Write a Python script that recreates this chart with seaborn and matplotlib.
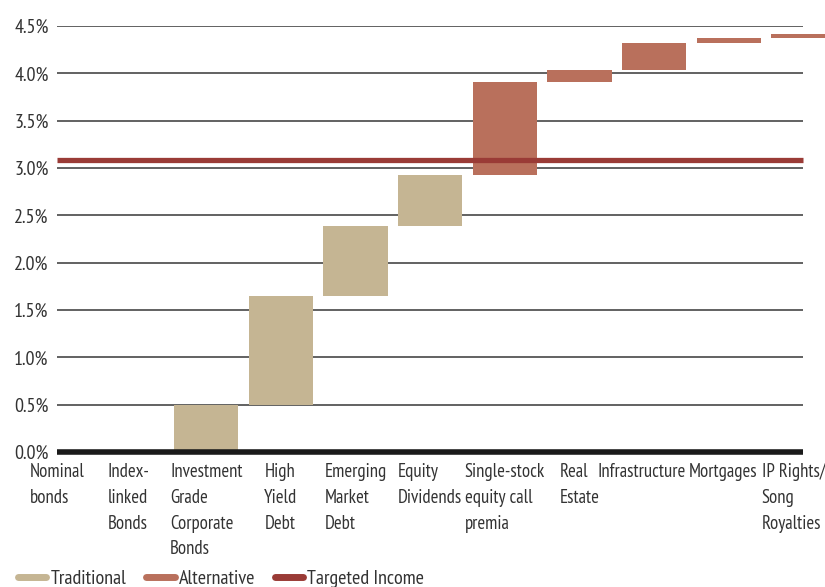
import numpy as np
import pandas as pd
import matplotlib
matplotlib.use("Agg")
import matplotlib.pyplot as plt
from matplotlib.lines import Line2D
from matplotlib.transforms import ScaledTranslation
import seaborn as sns

# data
categories = ["Nominal\nbonds", "Index-\nlinked\nBonds", "Investment\nGrade\nCorporate\nBonds",
              "High\nYield\nDebt", "Emerging\nMarket\nDebt", "Equity\nDividends",
              "Single-stock\nequity call\npremia", "Real\nEstate", "Infrastructure",
              "Mortgages", "IP Rights/\nSong\nRoyalties"]
bottoms = [0.0, 0.0, 0.0, 0.50, 1.65, 2.39, 2.93, 3.91, 4.04, 4.32, 4.37]
tops = [0.0, 0.0, 0.50, 1.65, 2.39, 2.93, 3.91, 4.04, 4.32, 4.37, 4.42]
groups = ["Traditional"] * 6 + ["Alternative"] * 5
target = 3.08
yticks = [0.0, 0.5, 1.0, 1.5, 2.0, 2.5, 3.0, 3.5, 4.0, 4.5]

colors = {"Traditional": "#C5B593", "Alternative": "#B9705C"}
target_color = "#9A3B36"
txt_color = "#333333"
fs = 13.5

sns.set_theme(style="white")
plt.rcParams['font.family'] = ['PT Sans Narrow', 'Roboto Condensed', 'DejaVu Sans']

df = pd.DataFrame({"cat": categories, "delta": np.array(tops) - np.array(bottoms),
                   "group": groups})

fig = plt.figure(figsize=(8.25, 5.87), dpi=100)
ax = fig.add_axes([57 / 825, 135 / 587, 1 - 57 / 825, 426 / 587])

sns.barplot(data=df, x="cat", y="delta", hue="group", palette=colors, dodge=False,
            width=0.86, order=categories, legend=False, ax=ax, zorder=2,
            linewidth=0, saturation=1)

# lift each bar to its floating base
for p in ax.patches:
    idx = int(round(p.get_x() + p.get_width() / 2))
    p.set_y(bottoms[idx])

# grid lines only across the category centres
ax.hlines(yticks[1:], 0, 10, color="#555555", lw=1.3, zorder=1)
ax.hlines(0, 0, 10, color="#1a1a1a", lw=4, zorder=3, clip_on=False)
ax.hlines(target, 0, 10, color=target_color, lw=3.8, zorder=4)

ax.set_xlim(0, 10.29)
ax.set_ylim(0, 4.5)
ax.set_yticks(yticks)
ax.set_yticklabels([f"{v:.1f}%" for v in yticks], fontsize=14.5, color=txt_color)
ax.set_xticks(range(len(categories)))
ax.set_xticklabels(categories, fontsize=fs, color=txt_color, va="top",
                   multialignment="left", linespacing=1.55)
ax.tick_params(axis="x", length=0, pad=8)
ax.tick_params(axis="y", length=0, pad=6)
ax.set_xlabel("")
ax.set_ylabel("")
for s in ax.spines.values():
    s.set_visible(False)

# nudge the crowded labels on the right, as in the original
shifts = {1: -3, 8: -12, 9: -6, 10: -10}
for i, lab in enumerate(ax.get_xticklabels()):
    if i in shifts:
        lab.set_transform(lab.get_transform() + ScaledTranslation(shifts[i] / 100, 0, fig.dpi_scale_trans))

handles = [Line2D([], [], color=colors["Traditional"], lw=5),
           Line2D([], [], color=colors["Alternative"], lw=5),
           Line2D([], [], color=target_color, lw=5)]
fig.legend(handles, ["Traditional", "Alternative", "Targeted Income"], ncol=3,
           loc="lower left", bbox_to_anchor=(0.0, -0.033), frameon=False,
           fontsize=14.5, handlelength=1.4, handletextpad=0.2, columnspacing=1.0,
           labelcolor=txt_color)

fig.savefig("out.png", dpi=100)
